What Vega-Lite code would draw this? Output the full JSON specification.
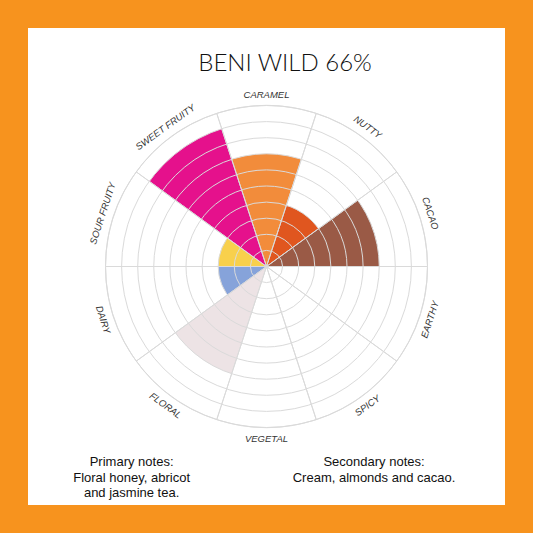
{
  "$schema": "https://vega.github.io/schema/vega-lite/v6.json",
  "width": 477,
  "height": 477,
  "padding": 28,
  "autosize": {"type": "none"},
  "background": "#F7931E",
  "view": {"fill": "white", "stroke": null},
  "datasets": {
    "flavors": [
      {"cat": "CARAMEL", "value": 7},
      {"cat": "NUTTY", "value": 4},
      {"cat": "CACAO", "value": 7},
      {"cat": "EARTHY", "value": 0},
      {"cat": "SPICY", "value": 0},
      {"cat": "VEGETAL", "value": 0},
      {"cat": "FLORAL", "value": 7},
      {"cat": "DAIRY", "value": 3},
      {"cat": "SOUR FRUITY", "value": 3},
      {"cat": "SWEET FRUITY", "value": 9}
    ],
    "rings": [
      {"r": 1}, {"r": 2}, {"r": 3}, {"r": 4}, {"r": 5},
      {"r": 6}, {"r": 7}, {"r": 8}, {"r": 9}, {"r": 10}
    ]
  },
  "layer": [
    {
      "data": {"name": "flavors"},
      "mark": {"type": "arc", "stroke": null},
      "encoding": {
        "theta": {
          "field": "cat", "type": "nominal",
          "scale": {"type": "band", "domain": ["CARAMEL", "NUTTY", "CACAO", "EARTHY", "SPICY", "VEGETAL", "FLORAL", "DAIRY", "SOUR FRUITY", "SWEET FRUITY"], "range": [-0.314159, 5.969026], "paddingInner": 0, "paddingOuter": 0}
        },
        "radius": {"field": "value", "type": "quantitative", "stack": null, "scale": {"type": "linear", "domain": [0, 10], "range": [0, 161], "zero": true}},
        "color": {
          "field": "cat",
          "type": "nominal",
          "scale": {
            "domain": ["CARAMEL", "NUTTY", "CACAO", "EARTHY", "SPICY", "VEGETAL", "FLORAL", "DAIRY", "SOUR FRUITY", "SWEET FRUITY"],
            "range": ["#F28C3B", "#E0561F", "#9A5A46", "#cccccc", "#cccccc", "#cccccc", "#EDE3E5", "#86A3DA", "#F8D04C", "#E5118C"]
          },
          "legend": null
        }
      }
    },
    {
      "data": {"name": "rings"},
      "mark": {"type": "arc", "fillOpacity": 0, "stroke": "#dadada", "strokeWidth": 1},
      "encoding": {
        "theta": {"value": 0},
        "theta2": {"value": 6.3},
        "radius": {"field": "r", "type": "quantitative", "stack": null}
      }
    },
    {
      "data": {"name": "flavors"},
      "mark": {"type": "arc", "fillOpacity": 0, "stroke": "#dadada", "strokeWidth": 1},
      "encoding": {
        "theta": {"field": "cat", "type": "nominal"},
        "radius": {"value": 161}
      }
    },
    {
      "data": {"name": "flavors"},
      "mark": {"type": "text", "font": "Liberation Sans", "fontStyle": "italic", "fontSize": 9.5, "color": "#333333", "align": "center", "baseline": "middle"},
      "encoding": {
        "theta": {"field": "cat", "type": "nominal"},
        "radius": {"value": 172},
        "text": {"field": "cat", "type": "nominal"},
        "angle": {
          "condition": [
            {"test": "datum.cat === 'NUTTY' || datum.cat === 'FLORAL'", "value": 36},
            {"test": "datum.cat === 'CACAO' || datum.cat === 'DAIRY'", "value": 72},
            {"test": "datum.cat === 'EARTHY' || datum.cat === 'SOUR FRUITY'", "value": 288},
            {"test": "datum.cat === 'SPICY' || datum.cat === 'SWEET FRUITY'", "value": 324}
          ],
          "value": 0
        }
      }
    },
    {
      "data": {"values": [{"t": "BENI WILD 66%"}]},
      "mark": {"type": "text", "font": "Lato", "fontWeight": 300, "fontSize": 24, "color": "#111111", "align": "center", "baseline": "alphabetic"},
      "encoding": {
        "x": {"value": 257},
        "y": {"value": 43},
        "text": {"field": "t"}
      }
    },
    {
      "data": {"values": [{"lines": ["Primary notes:", "Floral honey, abricot", "and jasmine tea."]}]},
      "mark": {"type": "text", "font": "Liberation Sans", "fontSize": 13, "color": "#111111", "align": "center", "baseline": "alphabetic", "lineHeight": 15.5},
      "encoding": {
        "x": {"value": 103.6},
        "y": {"value": 438},
        "text": {"field": "lines"}
      }
    },
    {
      "data": {"values": [{"lines": ["Secondary notes:", "Cream, almonds and cacao."]}]},
      "mark": {"type": "text", "font": "Liberation Sans", "fontSize": 13, "color": "#111111", "align": "center", "baseline": "alphabetic", "lineHeight": 15.5},
      "encoding": {
        "x": {"value": 346},
        "y": {"value": 438},
        "text": {"field": "lines"}
      }
    }
  ]
}
